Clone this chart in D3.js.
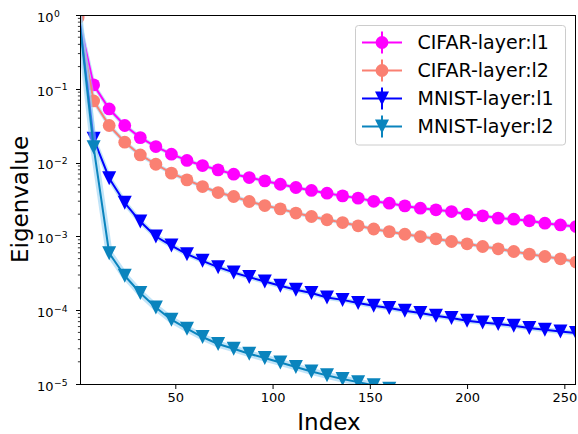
<!DOCTYPE html>
<html>
<head>
<meta charset="utf-8">
<script src="https://cdn.jsdelivr.net/npm/d3@7"></script>
<style>
  html, body { margin: 0; padding: 0; background: #fff; }
  svg { display: block; font-family: "DejaVu Sans", sans-serif; }
</style>
</head>
<body>
<svg id="chart" width="578" height="434"></svg>
<script>
// ---------- data ----------
const indices = [0, 8, 16, 24, 32, 40, 48, 56, 64, 72, 80, 88, 96, 104, 112, 120, 128,
  136, 144, 152, 160, 168, 176, 184, 192, 200, 208, 216, 224, 232, 240, 248, 256];

const cifarL1 = [1.0, 0.113, 0.0533, 0.0318, 0.0218, 0.0165, 0.0130, 0.0107, 0.00912, 0.00797,
  0.00697, 0.00627, 0.00565, 0.00509, 0.00460, 0.00420, 0.00385, 0.00354, 0.00330, 0.00299,
  0.00282, 0.00259, 0.00241, 0.00229, 0.00217, 0.00200, 0.00190, 0.00177, 0.00171, 0.00163,
  0.00151, 0.00143, 0.00136];

const cifarL2 = [0.92, 0.0685, 0.0318, 0.0189, 0.0127, 0.0095, 0.0072, 0.00583, 0.00474, 0.00393,
  0.00347, 0.00297, 0.00262, 0.00236, 0.00207, 0.00186, 0.00168, 0.00154, 0.00139, 0.00126,
  0.00116, 0.00107, 0.000996, 0.000927, 0.000853, 0.000794, 0.000730, 0.000679, 0.000624,
  0.000575, 0.000534, 0.000497, 0.000449];

const mnistL1 = [1.3, 0.021, 0.00615, 0.00285, 0.00159, 0.000997, 0.000752, 0.000575, 0.000467,
  0.000383, 0.000325, 0.000281, 0.000245, 0.000214, 0.000189, 0.000171, 0.000149, 0.000138,
  0.000125, 0.000115, 0.000107, 0.0000983, 0.0000914, 0.0000841, 0.0000782, 0.0000719,
  0.0000683, 0.0000649, 0.0000615, 0.0000573, 0.0000543, 0.0000515, 0.0000490];

const mnistL2 = [1.25, 0.0162, 0.000593, 0.000293, 0.000171, 0.000109, 0.0000743, 0.0000561,
  0.0000433, 0.0000348, 0.0000301, 0.0000257, 0.0000225, 0.0000196, 0.0000170, 0.0000148,
  0.0000131, 0.0000117, 0.0000106, 0.0000096, 0.0000086, 0.0000078, 0.0000072, 0.0000067,
  0.0000063, 0.0000060, 0.0000057, 0.0000054, 0.0000051, 0.0000049, 0.0000047, 0.0000045,
  0.0000043];

const seriesNames = ["CIFAR-layer:l1", "CIFAR-layer:l2", "MNIST-layer:l1", "MNIST-layer:l2"];
const seriesValues = [cifarL1, cifarL2, mnistL1, mnistL2];
const xTicks = [50, 100, 150, 200, 250];
const yTickExps = [0, -1, -2, -3, -4, -5];
const xLabel = "Index";
const yLabel = "Eigenvalue";

// ---------- styles ----------
const colors = ["#ff00ff", "#fa8072", "#0000ff", "#0a84bd"];
const markers = ["circle", "circle", "tri", "tri"];
const haloW = [4, 4, 5, 7];

// ---------- layout ----------
const svg = d3.select("#chart");
const L = 80, R = 576, T = 15, B = 384;

const x = d3.scaleLinear().domain([1, 256]).range([L, R]);
const y = d3.scaleLog().domain([1e-5, 1]).range([B, T]);

svg.append("defs").append("clipPath").attr("id", "plotclip")
  .append("rect").attr("x", L).attr("y", T).attr("width", R - L).attr("height", B - T);

const plot = svg.append("g").attr("clip-path", "url(#plotclip)");

function markerPath(type, r) {
  if (type === "circle") {
    return `M${r},0A${r},${r} 0 1,1 ${-r},0A${r},${r} 0 1,1 ${r},0Z`;
  }
  const h = r + 0.6;
  return `M0,${h}L${-h},${-h}L${h},${-h}Z`;
}

const line = d3.line().x(d => x(d[0])).y(d => y(d[1]));

seriesValues.forEach((vals, si) => {
  const pts = indices.map((ix, k) => [ix, vals[k]]);
  const g = plot.append("g");
  // light shaded band
  g.append("path").attr("d", line(pts)).attr("fill", "none")
    .attr("stroke", "#8ecdf2").attr("stroke-opacity", 0.55)
    .attr("stroke-width", haloW[si]).attr("stroke-linejoin", "round");
  g.append("path").attr("d", line(pts)).attr("fill", "none")
    .attr("stroke", colors[si]).attr("stroke-width", 2).attr("stroke-linejoin", "round");
  g.selectAll("path.mk").data(pts).enter().append("path").attr("class", "mk")
    .attr("d", markerPath(markers[si], 6.4))
    .attr("transform", d => `translate(${x(d[0])},${y(d[1])})`)
    .attr("fill", colors[si]);
});

// ---------- axes ----------
const axes = svg.append("g");
// spines
axes.append("rect").attr("x", L + 0.5).attr("y", T + 0.5)
  .attr("width", R - L - 1).attr("height", B - T)
  .attr("fill", "none").attr("stroke", "#000").attr("stroke-width", 1);

// x axis ticks
const xAxis = d3.axisBottom(x).tickValues(xTicks).tickSize(4.5).tickPadding(3.5);
const gx = axes.append("g").attr("transform", `translate(0,${B + 0.5})`).call(xAxis);
gx.select(".domain").remove();
gx.selectAll("text").attr("font-size", 13).attr("font-family", "DejaVu Sans").attr("fill", "#000");
gx.selectAll("line").attr("stroke", "#000");

// y axis ticks (major + minor)
const majorVals = yTickExps.map(e => Math.pow(10, e));
const minorVals = [];
for (let e = -5; e < 0; e++) for (let m = 2; m <= 9; m++) minorVals.push(m * Math.pow(10, e));
const gy = axes.append("g");
gy.selectAll("line.maj").data(majorVals).enter().append("line")
  .attr("x1", L + 0.5).attr("x2", L + 0.5 - 4.5)
  .attr("y1", d => Math.round(y(d)) + 0.5).attr("y2", d => Math.round(y(d)) + 0.5)
  .attr("stroke", "#000");
gy.selectAll("line.min").data(minorVals).enter().append("line")
  .attr("x1", L + 0.5).attr("x2", L + 0.5 - 2.6)
  .attr("y1", d => y(d)).attr("y2", d => y(d))
  .attr("stroke", "#000").attr("stroke-width", 0.8);

yTickExps.forEach(e => {
  const yy = y(Math.pow(10, e));
  gy.append("text").attr("x", 53.5).attr("y", yy + 6.8)
    .attr("text-anchor", "end").attr("font-size", 13).text("10");
  gy.append("text").attr("x", 54).attr("y", yy + 1.5)
    .attr("text-anchor", "start").attr("font-size", 9.2)
    .text(e === 0 ? "0" : "\u2212" + Math.abs(e));
});

// axis labels
svg.append("text").attr("x", (L + R) / 2 + 1).attr("y", 430)
  .attr("text-anchor", "middle").attr("font-size", 23).text(xLabel);
svg.append("text").attr("transform", `translate(28,${(T + B) / 2}) rotate(-90)`)
  .attr("text-anchor", "middle").attr("font-size", 23).text(yLabel);

// ---------- legend ----------
const lg = svg.append("g");
lg.append("rect").attr("x", 355.5).attr("y", 25.5).attr("width", 210).attr("height", 119.5)
  .attr("rx", 3).attr("fill", "#fff").attr("fill-opacity", 0.8)
  .attr("stroke", "#cccccc").attr("stroke-width", 1);
seriesNames.forEach((name, i) => {
  const cy = 42.5 + i * 28;
  const row = lg.append("g");
  row.append("line").attr("x1", 362).attr("x2", 402).attr("y1", cy).attr("y2", cy)
    .attr("stroke", colors[i]).attr("stroke-width", 2);
  row.append("line").attr("x1", 382).attr("x2", 382).attr("y1", cy - 11).attr("y2", cy + 11)
    .attr("stroke", colors[i]).attr("stroke-width", 2);
  row.append("path").attr("d", markerPath(markers[i], 6.4))
    .attr("transform", `translate(382,${cy})`).attr("fill", colors[i]);
  row.append("text").attr("x", 417.5).attr("y", cy + 6.5)
    .attr("font-size", 19).attr("fill", "#000").text(name);
});
</script>
</body>
</html>
